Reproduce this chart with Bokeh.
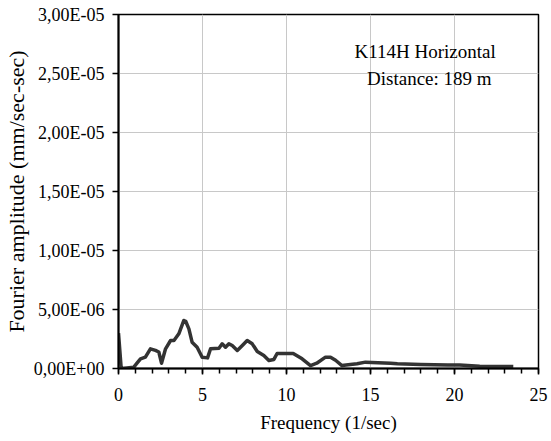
from bokeh.plotting import figure
from bokeh.models import FixedTicker, CustomJSTickFormatter, Range1d, Label
from bokeh.embed import file_html
from bokeh.resources import INLINE

# Data (frequency in 1/sec, amplitude in mm/sec-sec)
freq = [0.0, 0.16, 0.5, 0.9, 1.1, 1.31, 1.6, 1.9, 2.2, 2.4, 2.56, 2.8, 3.1, 3.3,
        3.59, 3.89, 4.0, 4.19, 4.38, 4.68, 4.98, 5.3, 5.48, 5.98, 6.17, 6.37,
        6.57, 6.77, 7.07, 7.37, 7.66, 7.96, 8.26, 8.65, 8.95, 9.25, 9.44, 10.4,
        10.93, 11.43, 11.8, 12.32, 12.62, 12.92, 13.3, 13.8, 14.2, 14.7, 16.2,
        16.6, 17.98, 19.6, 20.3, 21.5, 23.5]
amp = [3.0e-6, 0.0, 0.05e-6, 0.1e-6, 0.45e-6, 0.82e-6, 0.96e-6, 1.67e-6, 1.53e-6,
       1.4e-6, 0.45e-6, 1.67e-6, 2.37e-6, 2.37e-6, 2.94e-6, 4.07e-6, 4.0e-6,
       3.36e-6, 2.23e-6, 1.8e-6, 0.96e-6, 0.9e-6, 1.67e-6, 1.72e-6, 2.09e-6,
       1.8e-6, 2.09e-6, 1.95e-6, 1.53e-6, 1.95e-6, 2.37e-6, 2.09e-6, 1.44e-6,
       1.1e-6, 0.68e-6, 0.77e-6, 1.27e-6, 1.27e-6, 0.82e-6, 0.25e-6, 0.45e-6,
       0.96e-6, 0.96e-6, 0.7e-6, 0.25e-6, 0.34e-6, 0.4e-6, 0.54e-6, 0.45e-6,
       0.4e-6, 0.34e-6, 0.3e-6, 0.3e-6, 0.2e-6, 0.17e-6]

x_ticks = [0, 5, 10, 15, 20, 25]
x_minor = list(range(0, 26))
y_ticks = [0, 5e-6, 1e-5, 1.5e-5, 2e-5, 2.5e-5, 3e-5]
title_lines = ["K114H Horizontal", "Distance: 189 m"]

FONT = "Liberation Serif"

p = figure(width=551, height=441, output_backend="svg", toolbar_location=None,
           x_range=Range1d(0, 25), y_range=Range1d(0, 3e-5),
           min_border_left=118, min_border_right=13, min_border_top=14,
           min_border_bottom=73)
p.background_fill_color = "white"
p.border_fill_color = "white"
p.outline_line_color = "black"
p.outline_line_width = 1.5

p.xaxis.ticker = FixedTicker(ticks=x_ticks, minor_ticks=x_minor)
p.yaxis.ticker = FixedTicker(ticks=y_ticks, minor_ticks=[])
p.yaxis.formatter = CustomJSTickFormatter(code="""
    let s = tick.toExponential(2);
    let parts = s.split('e');
    let m = parts[0].replace('.', ',');
    let e = parseInt(parts[1]);
    let sign = e < 0 ? '-' : '+';
    let ae = Math.abs(e);
    let es = ae < 10 ? '0' + ae : '' + ae;
    return m + 'E' + sign + es;
""")

for ax in (p.xaxis, p.yaxis):
    ax.axis_line_color = "black"
    ax.axis_line_width = 2
    ax.major_tick_line_color = "black"
    ax.major_tick_line_width = 1.5
    ax.major_tick_out = 6
    ax.major_tick_in = 0
    ax.minor_tick_line_color = "black"
    ax.minor_tick_line_width = 1.5
    ax.minor_tick_out = 5
    ax.minor_tick_in = 0
    ax.major_label_text_font = FONT
    ax.major_label_text_font_size = "18px"
    ax.major_label_text_color = "black"
    ax.axis_label_text_font = FONT
    ax.axis_label_text_font_style = "normal"
    ax.axis_label_text_color = "black"

p.xaxis.axis_label_text_font_size = "19px"
p.yaxis.axis_label_text_font_size = "22px"
p.xaxis.major_label_standoff = 13
p.xaxis.axis_label = "Frequency (1/sec)"
p.xaxis.axis_label_standoff = 8
p.yaxis.major_label_standoff = 8
p.yaxis.axis_label = "Fourier amplitude (mm/sec-sec)"
p.yaxis.axis_label_standoff = 2

p.xgrid.grid_line_color = "#c8c8c8"
p.ygrid.grid_line_color = "#c8c8c8"
p.xgrid.grid_line_width = 1
p.ygrid.grid_line_width = 1

p.line(freq, amp, line_color="#333333", line_width=3.5, line_join="round")

p.add_layout(Label(x=18.25, y=26.86e-6, text=title_lines[0], text_font=FONT,
                   text_font_size="19px", text_align="center",
                   text_baseline="middle", text_color="black"))
p.add_layout(Label(x=18.5, y=24.6e-6, text=title_lines[1], text_font=FONT,
                   text_font_size="19px", text_align="center",
                   text_baseline="middle", text_color="black"))

open("out.html", "w").write(file_html(p, INLINE))
